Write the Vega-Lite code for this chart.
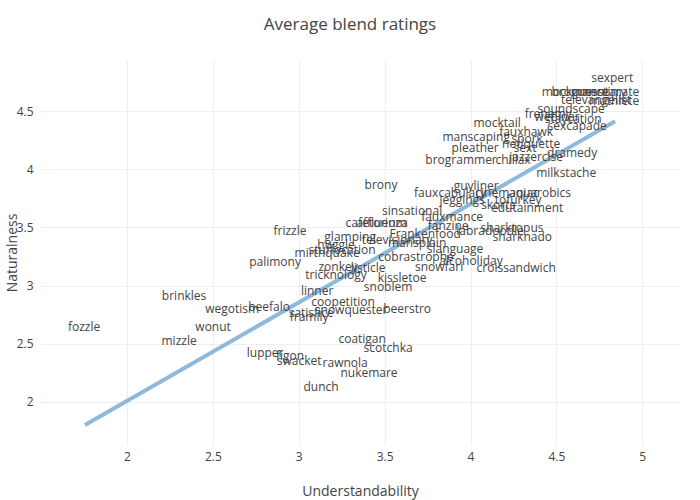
{
  "$schema": "https://vega.github.io/schema/vega-lite/v6.json",
  "width": 640,
  "height": 385,
  "autosize": {"type": "none"},
  "padding": {"left": 40, "top": 60, "right": 20, "bottom": 55},
  "background": "white",
  "title": {"text": "Average blend ratings", "font": "Open Sans", "fontSize": 17, "fontWeight": "normal", "color": "#444", "anchor": "middle", "dx": -10, "offset": 26},
  "config": {
    "view": {"stroke": null},
    "axis": {"domain": false, "ticks": false, "gridColor": "#eeeeee", "gridWidth": 1, "labelFont": "Open Sans", "labelFontSize": 12, "labelColor": "#444", "titleFont": "Open Sans", "titleFontSize": 14, "titleFontWeight": "normal", "titleColor": "#444"}
  },
  "datasets": {
    "words": [
      {"word": "sexpert", "u": 4.825, "n": 4.783},
      {"word": "mockumentary", "u": 4.662, "n": 4.663},
      {"word": "bromance", "u": 4.638, "n": 4.663},
      {"word": "guesstimate", "u": 4.784, "n": 4.663},
      {"word": "televangelist", "u": 4.731, "n": 4.594},
      {"word": "mathlete", "u": 4.836, "n": 4.586},
      {"word": "soundscape", "u": 4.586, "n": 4.517},
      {"word": "frenemy", "u": 4.452, "n": 4.474},
      {"word": "webinar", "u": 4.504, "n": 4.448},
      {"word": "staycation", "u": 4.598, "n": 4.431},
      {"word": "sexcapade", "u": 4.621, "n": 4.371},
      {"word": "mocktail", "u": 4.155, "n": 4.397},
      {"word": "fauxhawk", "u": 4.324, "n": 4.32},
      {"word": "manscaping", "u": 4.033, "n": 4.277},
      {"word": "spork", "u": 4.33, "n": 4.259},
      {"word": "netiquette", "u": 4.353, "n": 4.216},
      {"word": "sext", "u": 4.318, "n": 4.182},
      {"word": "pleather", "u": 4.027, "n": 4.182},
      {"word": "dramedy", "u": 4.592, "n": 4.139},
      {"word": "jazzercise", "u": 4.382, "n": 4.105},
      {"word": "brogrammer", "u": 3.945, "n": 4.079},
      {"word": "chillax", "u": 4.248, "n": 4.079},
      {"word": "milkstache", "u": 4.557, "n": 3.967},
      {"word": "brony", "u": 3.479, "n": 3.864},
      {"word": "guyliner", "u": 4.033, "n": 3.856},
      {"word": "fauxcabulary", "u": 3.881, "n": 3.796},
      {"word": "cinemaniac", "u": 4.213, "n": 3.796},
      {"word": "aquarobics", "u": 4.405, "n": 3.796},
      {"word": "jeggings", "u": 3.951, "n": 3.735},
      {"word": "tofurkey", "u": 4.277, "n": 3.735},
      {"word": "skorts", "u": 4.161, "n": 3.692},
      {"word": "edutainment", "u": 4.33, "n": 3.667},
      {"word": "sinsational", "u": 3.66, "n": 3.641},
      {"word": "fauxmance", "u": 3.893, "n": 3.589},
      {"word": "cafetorium", "u": 3.45, "n": 3.538},
      {"word": "affluenza", "u": 3.485, "n": 3.538},
      {"word": "fanzine", "u": 3.87, "n": 3.512},
      {"word": "sharktopus", "u": 4.242, "n": 3.495},
      {"word": "labradoodle", "u": 4.114, "n": 3.469},
      {"word": "frizzle", "u": 2.949, "n": 3.469},
      {"word": "Frankenfood", "u": 3.736, "n": 3.443},
      {"word": "glamping", "u": 3.299, "n": 3.418},
      {"word": "sharknado", "u": 4.301, "n": 3.418},
      {"word": "televisionary", "u": 3.573, "n": 3.392},
      {"word": "mansplain", "u": 3.689, "n": 3.366},
      {"word": "huggle", "u": 3.217, "n": 3.349},
      {"word": "slanguage", "u": 3.91, "n": 3.314},
      {"word": "stuffocation", "u": 3.252, "n": 3.306},
      {"word": "mirthquake", "u": 3.165, "n": 3.28},
      {"word": "cobrastrophe", "u": 3.683, "n": 3.246},
      {"word": "alcoholiday", "u": 4.003, "n": 3.211},
      {"word": "palimony", "u": 2.862, "n": 3.203},
      {"word": "snowfari", "u": 3.817, "n": 3.16},
      {"word": "zonkey", "u": 3.229, "n": 3.16},
      {"word": "croissandwich", "u": 4.266, "n": 3.151},
      {"word": "listicle", "u": 3.404, "n": 3.151},
      {"word": "tricknology", "u": 3.217, "n": 3.091},
      {"word": "kissletoe", "u": 3.602, "n": 3.065},
      {"word": "snoblem", "u": 3.52, "n": 2.988},
      {"word": "linner", "u": 3.107, "n": 2.954},
      {"word": "brinkles", "u": 2.332, "n": 2.911},
      {"word": "coopetition", "u": 3.258, "n": 2.859},
      {"word": "beefalo", "u": 2.827, "n": 2.816},
      {"word": "wegotism", "u": 2.612, "n": 2.799},
      {"word": "beerstro", "u": 3.631, "n": 2.799},
      {"word": "snowquester", "u": 3.305, "n": 2.79},
      {"word": "satisfice", "u": 3.072, "n": 2.765},
      {"word": "framily", "u": 3.06, "n": 2.73},
      {"word": "fozzle", "u": 1.75, "n": 2.644},
      {"word": "wonut", "u": 2.501, "n": 2.644},
      {"word": "coatigan", "u": 3.369, "n": 2.541},
      {"word": "mizzle", "u": 2.303, "n": 2.524},
      {"word": "scotchka", "u": 3.52, "n": 2.464},
      {"word": "lupper", "u": 2.804, "n": 2.421},
      {"word": "figon", "u": 2.949, "n": 2.395},
      {"word": "swacket", "u": 3.002, "n": 2.352},
      {"word": "rawnola", "u": 3.27, "n": 2.335},
      {"word": "nukemare", "u": 3.409, "n": 2.249},
      {"word": "dunch", "u": 3.13, "n": 2.129}
    ],
    "trend": [
      {"u": 1.755, "n": 1.802},
      {"u": 4.842, "n": 4.414}
    ]
  },
  "layer": [
    {
      "data": {"name": "trend"},
      "mark": {"type": "line", "color": "#8cb9dc", "strokeWidth": 4},
      "encoding": {
        "x": {"field": "u", "type": "quantitative", "scale": {"domain": [1.493, 5.22], "nice": false, "zero": false},
              "axis": {"values": [2, 2.5, 3, 3.5, 4, 4.5, 5], "format": "~g", "title": "Understandability", "labelPadding": 6, "titleY": 46, "titleBaseline": "middle"}},
        "y": {"field": "n", "type": "quantitative", "scale": {"domain": [1.63, 4.94], "nice": false, "zero": false},
              "axis": {"values": [2, 2.5, 3, 3.5, 4, 4.5], "format": "~g", "title": "Naturalness", "labelPadding": 7, "titleX": -28, "titleBaseline": "middle"}}
      }
    },
    {
      "data": {"name": "words"},
      "mark": {"type": "text", "font": "Open Sans", "fontSize": 12, "color": "#444", "align": "center", "baseline": "middle"},
      "encoding": {
        "x": {"field": "u", "type": "quantitative"},
        "y": {"field": "n", "type": "quantitative"},
        "text": {"field": "word", "type": "nominal"}
      }
    }
  ]
}
